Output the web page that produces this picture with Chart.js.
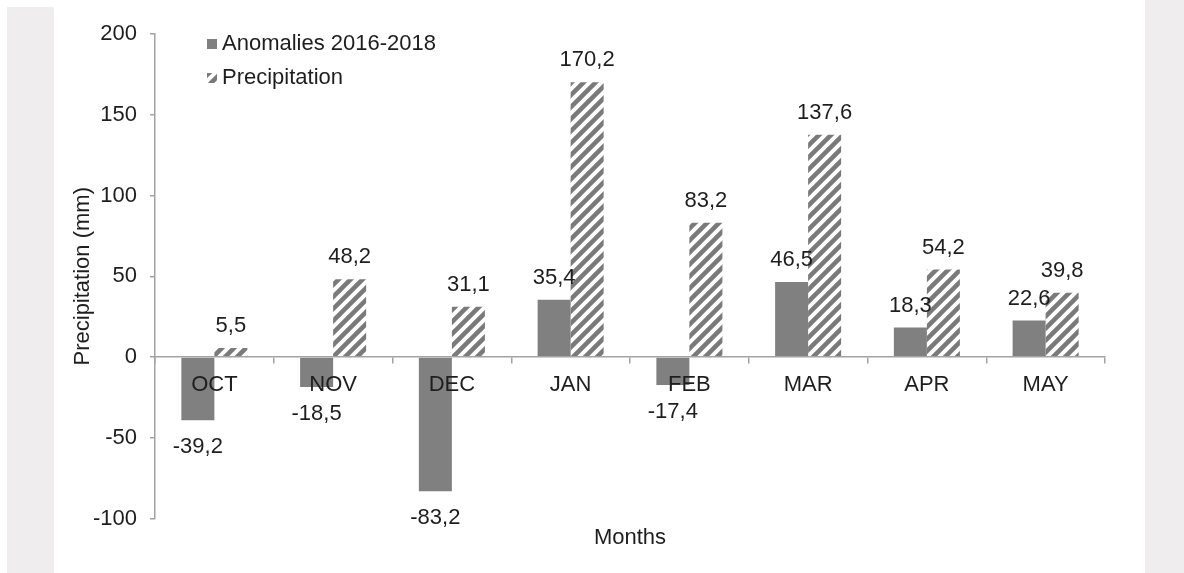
<!DOCTYPE html>
<html>
<head>
<meta charset="utf-8">
<script src="https://cdn.jsdelivr.net/npm/chart.js@4.4.1/dist/chart.umd.min.js"></script>
<style>
  html, body { margin: 0; padding: 0; background: #fff; }
  body { width: 1184px; height: 573px; position: relative; overflow: hidden; }
  .strip { position: absolute; background: #efedee; }
  #left-strip { left: 7px; top: 7px; width: 47px; height: 566px; }
  #right-strip { left: 1145px; top: 0; width: 39px; height: 573px; }
  #chart-box { position: absolute; left: 54px; top: 0; width: 1091px; height: 573px; }
</style>
</head>
<body>
<div class="strip" id="left-strip"></div>
<div class="strip" id="right-strip"></div>
<div id="chart-box"><canvas id="precip-chart"></canvas></div>
<script>
// 数据
const months = ['OCT', 'NOV', 'DEC', 'JAN', 'FEB', 'MAR', 'APR', 'MAY'];
const anomalies = [-39.2, -18.5, -83.2, 35.4, -17.4, 46.5, 18.3, 22.6];
const precipitation = [5.5, 48.2, 31.1, 170.2, 83.2, 137.6, 54.2, 39.8];
const yTicks = [-100, -50, 0, 50, 100, 150, 200];
const seriesNames = ['Anomalies 2016-2018', 'Precipitation'];

const FONT = '"Liberation Sans", Arial, sans-serif';
const FONT_SIZE = 22;
const TEXT = '#1e1e1e';
const AXIS = '#a3a3a3';
const BAR_GREY = '#808080';

// 斜线填充
function makeHatch(color) {
  const size = 12;
  const c = document.createElement('canvas');
  c.width = size;
  c.height = size;
  const g = c.getContext('2d');
  g.strokeStyle = color;
  g.lineWidth = 4.5;
  g.beginPath();
  g.moveTo(-1, size + 1); g.lineTo(size + 1, -1);
  g.moveTo(-size / 2 - 1, size / 2 + 1); g.lineTo(size / 2 + 1, -size / 2 - 1);
  g.moveTo(size / 2 - 1, size * 1.5 + 1); g.lineTo(size * 1.5 + 1, size / 2 - 1);
  g.stroke();
  return g.createPattern(c, 'repeat');
}

const fmt = v => v.toFixed(1).replace('.', ',');

// 数值标签
const valueLabels = {
  id: 'valueLabels',
  afterDatasetsDraw(chart) {
    const ctx = chart.ctx;
    ctx.save();
    ctx.font = FONT_SIZE + 'px ' + FONT;
    ctx.fillStyle = TEXT;
    ctx.textAlign = 'center';
    ctx.textBaseline = 'middle';
    chart.data.datasets.forEach((ds, i) => {
      chart.getDatasetMeta(i).data.forEach((bar, j) => {
        const v = ds.data[j];
        const y = v >= 0 ? bar.y - 22 : bar.y + 27;
        ctx.fillText(fmt(v), bar.x, y);
      });
    });
    ctx.restore();
  }
};

// 图例（图内左上角）
const insideLegend = {
  id: 'insideLegend',
  afterDraw(chart) {
    const ctx = chart.ctx;
    const x0 = chart.chartArea.left + 52;
    const rows = [44, 78];
    ctx.save();
    ctx.font = FONT_SIZE + 'px ' + FONT;
    ctx.textBaseline = 'middle';
    chart.data.datasets.forEach((ds, i) => {
      const y = rows[i];
      ctx.fillStyle = ds.backgroundColor;
      ctx.fillRect(x0, y - 5, 10, 10);
      ctx.fillStyle = TEXT;
      ctx.fillText(ds.label, x0 + 15, y);
    });
    ctx.restore();
  }
};

const ctx = document.getElementById('precip-chart').getContext('2d');

new Chart(ctx, {
  type: 'bar',
  data: {
    labels: months,
    datasets: [
      {
        label: seriesNames[0],
        data: anomalies,
        backgroundColor: BAR_GREY,
        borderWidth: 0,
        barPercentage: 1,
        categoryPercentage: 0.556
      },
      {
        label: seriesNames[1],
        data: precipitation,
        backgroundColor: makeHatch('#7a7a7a'),
        borderWidth: 0,
        barPercentage: 1,
        categoryPercentage: 0.556
      }
    ]
  },
  options: {
    responsive: true,
    maintainAspectRatio: false,
    animation: false,
    devicePixelRatio: 1,
    layout: {
      padding: { top: 34, right: 40, bottom: 0, left: 0 }
    },
    plugins: {
      legend: { display: false },
      tooltip: { enabled: false }
    },
    scales: {
      x: {
        position: { y: 0 },
        grid: {
          display: true,
          drawOnChartArea: false,
          drawTicks: true,
          tickLength: 6,
          color: AXIS,
          lineWidth: 1.5,
          offset: true,
          z: 1
        },
        border: { display: true, color: AXIS, width: 1.5, z: 1 },
        ticks: {
          z: 1,
          color: TEXT,
          padding: 9,
          maxRotation: 0,
          font: { family: FONT, size: FONT_SIZE }
        }
      },
      x2: {
        type: 'category',
        position: 'bottom',
        labels: months,
        grid: { display: false },
        border: { display: false },
        ticks: { display: false },
        title: {
          display: true,
          text: 'Months',
          color: TEXT,
          font: { family: FONT, size: FONT_SIZE },
          padding: { top: 0, bottom: 22 }
        },
        afterFit(scale) { scale.height = 54.5; }
      },
      y: {
        min: -100,
        max: 200,
        afterBuildTicks(scale) {
          scale.ticks = yTicks.map(v => ({ value: v }));
        },
        afterFit(scale) { scale.width = 101; },
        grid: {
          display: true,
          drawOnChartArea: false,
          drawTicks: true,
          tickLength: 5,
          color: AXIS,
          lineWidth: 1.5
        },
        border: { display: true, color: AXIS, width: 1.5 },
        ticks: {
          color: TEXT,
          padding: 13,
          font: { family: FONT, size: FONT_SIZE },
          callback: v => String(v)
        },
        title: {
          display: true,
          text: 'Precipitation (mm)',
          color: TEXT,
          font: { family: FONT, size: FONT_SIZE },
          padding: { top: 16, bottom: 0 }
        }
      }
    }
  },
  plugins: [valueLabels, insideLegend]
});
</script>
</body>
</html>
